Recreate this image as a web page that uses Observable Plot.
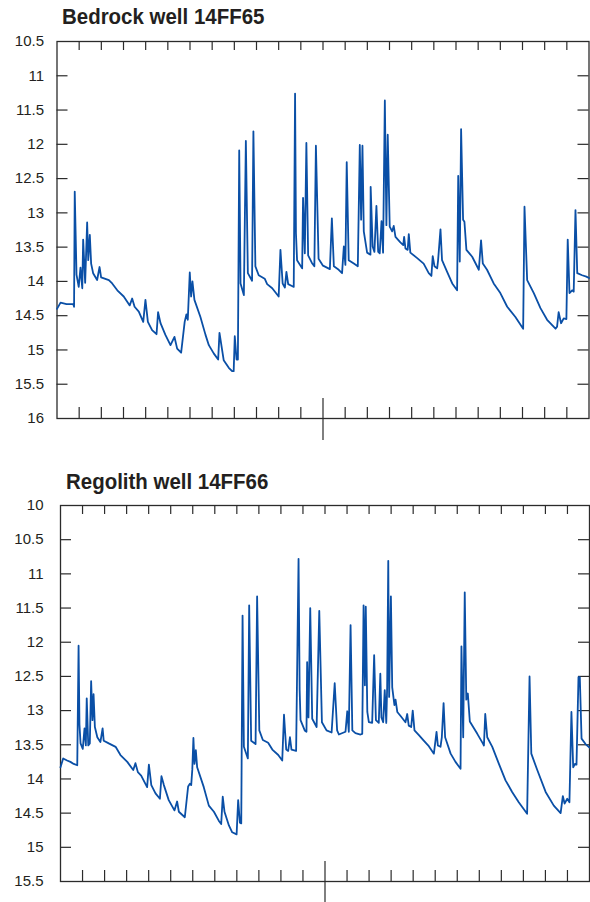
<!DOCTYPE html>
<html><head><meta charset="utf-8">
<script src="https://cdn.jsdelivr.net/npm/d3@7"></script>
<script src="https://cdn.jsdelivr.net/npm/@observablehq/plot@0.6"></script>
<style>
body{margin:0;background:#fff;}
#wrap{position:relative;width:590px;height:902px;overflow:hidden;background:#fff;
 font-family:"Liberation Sans",Arial,sans-serif;}
.title{position:absolute;font-weight:bold;font-size:22px;line-height:22px;color:#231f20;white-space:nowrap;
 transform:scaleX(0.93);transform-origin:0 0;}
.panel{position:absolute;left:0;}
</style></head><body><div id="wrap"></div>
<script>
// Titles
const titles = ["Bedrock well 14FF65", "Regolith well 14FF66"];
// Month positions of x ticks (two years, monthly)
const xTicks = d3.range(0, 25);
const yearBoundary = [12];
// Y tick labels (depth to water, feet)
const yTicksBedrock = [10.5, 11, 11.5, 12, 12.5, 13, 13.5, 14, 14.5, 15, 15.5, 16];
const yTicksRegolith = [10, 10.5, 11, 11.5, 12, 12.5, 13, 13.5, 14, 14.5, 15, 15.5];
// [months since start, depth]
const bedrock = [[0,14.40],[0.16,14.31],[0.43,14.33],[0.73,14.33],[0.77,14.37],[0.80,12.69],[0.88,13.90],[0.98,14.08],[1.06,13.80],[1.14,14.10],[1.18,13.39],[1.27,14.02],[1.36,13.14],[1.41,13.69],[1.48,13.32],[1.54,13.74],[1.63,13.88],[1.81,13.98],[1.92,13.79],[1.99,13.94],[2.34,13.98],[2.49,14.03],[2.72,14.13],[3.01,14.22],[3.28,14.35],[3.39,14.25],[3.50,14.37],[3.69,14.44],[3.89,14.59],[3.99,14.27],[4.10,14.59],[4.29,14.71],[4.49,14.77],[4.56,14.45],[4.67,14.61],[4.89,14.78],[5.12,14.93],[5.30,14.81],[5.42,14.98],[5.60,15.04],[5.76,14.59],[5.84,14.48],[5.90,14.56],[5.99,13.87],[6.05,14.22],[6.11,14.00],[6.20,14.27],[6.47,14.52],[6.70,14.78],[6.85,14.93],[7.07,15.05],[7.27,15.14],[7.33,14.75],[7.52,15.15],[7.75,15.26],[7.90,15.31],[7.97,15.31],[8.02,14.80],[8.10,15.14],[8.16,15.14],[8.22,12.09],[8.28,14.03],[8.43,14.20],[8.52,11.95],[8.61,13.88],[8.80,13.99],[8.86,11.81],[8.95,13.78],[9.10,13.91],[9.37,13.96],[9.48,14.04],[9.71,14.10],[10.00,14.22],[10.08,13.54],[10.18,14.03],[10.28,14.09],[10.35,13.86],[10.43,14.04],[10.62,14.07],[10.68,14.08],[10.74,11.26],[10.78,13.30],[10.83,13.69],[11.06,13.81],[11.10,12.78],[11.18,13.59],[11.25,11.98],[11.33,13.62],[11.50,13.73],[11.61,13.78],[11.68,12.02],[11.80,13.67],[12.00,13.77],[12.31,13.82],[12.40,13.08],[12.49,13.78],[12.71,13.83],[12.86,13.88],[12.94,13.49],[13.01,13.76],[13.07,12.26],[13.16,13.69],[13.39,13.74],[13.57,13.78],[13.66,12.01],[13.72,13.10],[13.78,12.02],[13.84,13.27],[13.99,13.58],[14.14,13.61],[14.15,12.62],[14.24,13.49],[14.32,13.57],[14.41,12.90],[14.49,13.57],[14.56,13.59],[14.64,13.12],[14.71,13.58],[14.79,11.36],[14.86,13.18],[14.92,11.86],[15.01,13.20],[15.12,13.27],[15.19,13.19],[15.27,13.35],[15.49,13.43],[15.62,13.47],[15.66,13.35],[15.72,13.52],[15.82,13.54],[15.87,13.31],[15.94,13.58],[16.25,13.66],[16.54,13.74],[16.77,13.88],[16.89,13.92],[16.95,13.63],[17.03,13.78],[17.15,13.81],[17.19,13.70],[17.30,13.24],[17.37,13.69],[17.60,13.86],[17.83,14.03],[18.05,14.13],[18.10,12.46],[18.17,13.71],[18.23,11.78],[18.32,13.10],[18.38,13.13],[18.47,13.54],[18.73,13.64],[19.03,13.83],[19.13,13.40],[19.21,13.74],[19.40,13.83],[19.70,14.03],[20.00,14.17],[20.31,14.37],[20.68,14.52],[21.03,14.69],[21.09,12.91],[21.21,13.98],[21.51,14.17],[21.81,14.39],[22.11,14.56],[22.49,14.69],[22.56,14.66],[22.63,14.45],[22.74,14.61],[22.86,14.54],[22.98,14.55],[23.04,13.39],[23.12,14.17],[23.24,14.13],[23.31,14.15],[23.39,12.96],[23.47,13.88],[23.69,13.91],[23.88,13.93],[24.0,13.95]];
const regolith = [[0,13.83],[0.12,13.70],[0.30,13.73],[0.45,13.75],[0.60,13.78],[0.76,13.80],[0.82,12.05],[0.86,13.20],[0.91,13.48],[1.01,13.56],[1.09,13.26],[1.15,13.51],[1.19,12.82],[1.26,13.51],[1.33,13.48],[1.39,12.57],[1.45,13.14],[1.50,12.76],[1.56,13.24],[1.67,13.39],[1.81,13.46],[1.91,13.26],[1.96,13.44],[2.19,13.48],[2.50,13.53],[2.72,13.65],[3.03,13.75],[3.30,13.87],[3.40,13.77],[3.51,13.90],[3.66,13.95],[3.93,14.12],[4.01,13.79],[4.12,14.09],[4.31,14.21],[4.51,14.29],[4.58,13.96],[4.69,14.09],[4.91,14.31],[5.17,14.46],[5.29,14.33],[5.37,14.48],[5.64,14.56],[5.79,14.11],[5.87,14.07],[5.93,14.09],[5.98,13.86],[6.03,13.40],[6.08,13.78],[6.14,13.58],[6.20,13.83],[6.50,14.12],[6.73,14.39],[6.96,14.48],[7.18,14.61],[7.29,14.66],[7.36,14.26],[7.44,14.48],[7.64,14.68],[7.79,14.78],[7.99,14.81],[8.06,14.31],[8.14,14.64],[8.20,14.65],[8.26,11.61],[8.32,13.53],[8.50,13.70],[8.56,11.46],[8.65,13.44],[8.85,13.49],[8.92,11.33],[9.02,13.29],[9.18,13.43],[9.42,13.47],[9.61,13.57],[9.88,13.65],[10.06,13.73],[10.14,13.06],[10.24,13.57],[10.33,13.59],[10.41,13.39],[10.48,13.57],[10.69,13.59],[10.80,10.78],[10.85,12.70],[10.89,13.14],[11.08,13.29],[11.16,13.31],[11.19,12.29],[11.25,13.10],[11.33,11.50],[11.42,13.12],[11.62,13.24],[11.74,11.54],[11.86,13.17],[12.07,13.29],[12.30,13.32],[12.44,12.60],[12.55,13.29],[12.63,13.35],[12.93,13.31],[13.01,13.01],[13.08,13.31],[13.16,11.75],[13.24,13.29],[13.38,13.33],[13.61,13.35],[13.69,13.34],[13.75,11.46],[13.81,12.63],[13.85,11.48],[13.92,13.02],[13.99,13.17],[14.14,13.18],[14.23,12.19],[14.31,13.14],[14.44,13.18],[14.51,12.46],[14.56,13.10],[14.64,13.17],[14.71,12.70],[14.78,13.18],[14.82,12.66],[14.87,10.81],[14.91,12.80],[14.99,11.33],[15.05,12.66],[15.15,12.92],[15.20,12.84],[15.28,13.02],[15.43,13.08],[15.65,13.17],[15.73,13.05],[15.80,13.22],[15.91,13.24],[15.98,13.00],[16.06,13.29],[16.26,13.36],[16.48,13.44],[16.71,13.52],[16.94,13.63],[17.06,13.31],[17.12,13.51],[17.24,13.53],[17.30,13.39],[17.38,12.89],[17.45,13.39],[17.70,13.63],[17.92,13.75],[18.15,13.85],[18.19,12.06],[18.27,13.39],[18.34,11.27],[18.41,12.84],[18.48,12.75],[18.57,13.16],[18.91,13.34],[19.16,13.48],[19.21,13.51],[19.27,13.05],[19.36,13.39],[19.59,13.53],[19.89,13.78],[20.19,14.02],[20.49,14.19],[20.79,14.34],[21.17,14.51],[21.28,12.50],[21.36,13.63],[21.63,13.87],[22.01,14.19],[22.38,14.39],[22.69,14.50],[22.79,14.25],[22.87,14.36],[22.99,14.29],[23.09,14.34],[23.18,13.02],[23.26,13.83],[23.34,13.78],[23.41,13.79],[23.50,12.51],[23.56,12.51],[23.64,13.41],[23.82,13.49],[24.00,13.54]];

const FONT = '"Liberation Sans",Arial,sans-serif';
const INK = "#2b2b2b";
const LINE = "#0a4fa6";

function panel({series, yTicks, height, mt, mb, ml, mr, pad}) {
  const width = 590;
  const plotH = height - mt - mb;
  const plotW = width - ml - mr;
  const domain = [yTicks[0], yTicks[yTicks.length - 1]];
  const inner = yTicks.slice(1, -1);
  const minorX = xTicks.filter(t => t > 0 && t < 24 && !yearBoundary.includes(t));
  const topX = xTicks.filter(t => t > 0 && t < 24);
  return Plot.plot({
    width, height, marginTop: mt, marginBottom: mb, marginLeft: ml, marginRight: mr,
    x: {domain: [0, 24], axis: null},
    y: {domain, reverse: true, axis: null},
    style: {fontFamily: FONT, fontSize: "15px", color: INK, background: "transparent", overflow: "visible"},
    marks: [
      Plot.frame({stroke: INK, strokeWidth: 1.3}),
      Plot.tickX(minorX, {x: d => d, insetTop: plotH - 11, stroke: INK, strokeWidth: 1.2}),
      Plot.tickX(topX, {x: d => d, insetBottom: plotH - 9, stroke: INK, strokeWidth: 1.2}),
      Plot.tickX(yearBoundary, {x: d => d, insetTop: plotH - 20, insetBottom: -22, stroke: INK, strokeWidth: 1.2}),
      Plot.tickY(inner, {y: d => d, insetRight: plotW - 11, stroke: INK, strokeWidth: 1.2}),
      Plot.tickY(inner, {y: d => d, insetLeft: plotW - 11, stroke: INK, strokeWidth: 1.2}),
      Plot.axisY(yTicks, {anchor: "left", tickSize: 0, tickPadding: pad, fontSize: 15, fill: "#231f20", tickFormat: d => String(d)}),
      Plot.line(series, {x: d => d[0], y: d => d[1], stroke: LINE, strokeWidth: 1.8, strokeLinejoin: "round"})
    ]
  });
}

const wrap = document.getElementById("wrap");
function addTitle(text, left, top) {
  const t = document.createElement("div");
  t.className = "title"; t.textContent = text;
  t.style.left = left + "px"; t.style.top = top + "px";
  wrap.appendChild(t);
}
function addPanel(svg, top) {
  const d = document.createElement("div");
  d.className = "panel"; d.style.top = top + "px";
  d.appendChild(svg); wrap.appendChild(d);
}
addTitle(titles[0], 62, 6);
addPanel(panel({series: bedrock, yTicks: yTicksBedrock, height: 420, mt: 11, mb: 32, ml: 56.5, mr: 1.5, pad: 13}), 30);
addTitle(titles[1], 66, 471);
addPanel(panel({series: regolith, yTicks: yTicksRegolith, height: 409, mt: 12, mb: 21, ml: 60, mr: 1, pad: 17}), 493);
</script></body></html>
